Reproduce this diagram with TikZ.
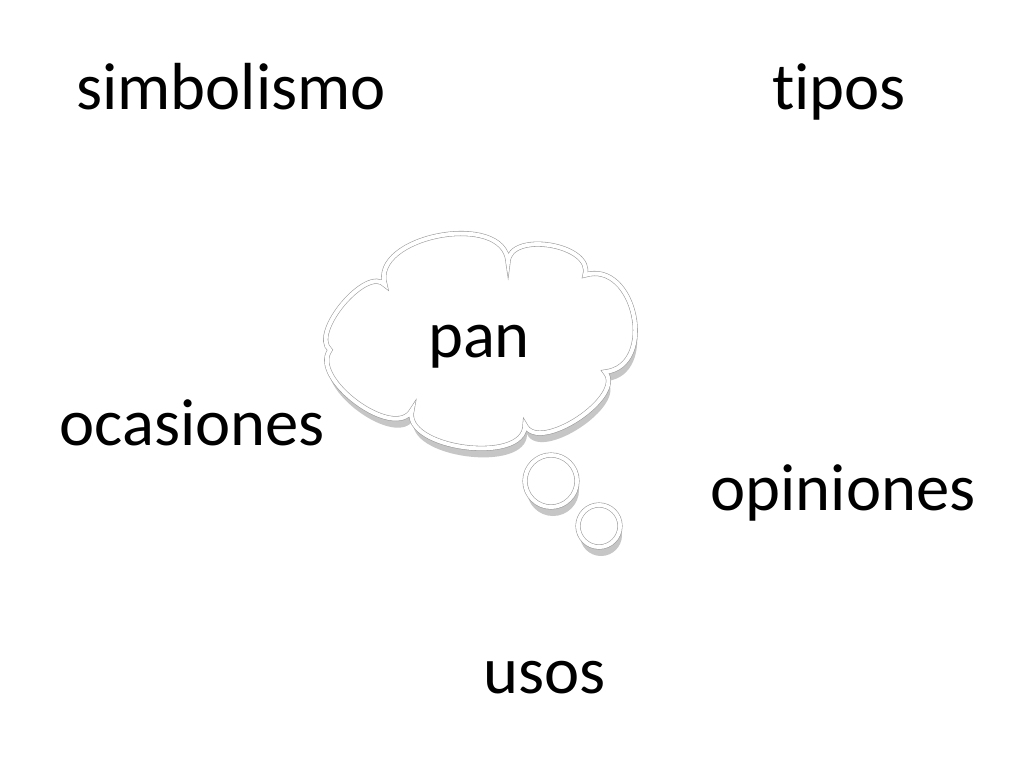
\documentclass[tikz,border=0pt]{standalone}
\usepackage{fontspec}
\setmainfont{Carlito}[Ligatures={NoCommon}, RawFeature={-liga;-dlig}]
\definecolor{shadowgray}{HTML}{C6C6C6}
\definecolor{linegray}{HTML}{9A9A9A}
\tikzset{
  word/.style={anchor=base, inner sep=0pt, font=\fontsize{47}{56}\selectfont},
  bubble/.style={fill=white, draw=linegray, line width=0.4pt, double=white, double distance=2.8pt},
  bubbleshadow/.style={fill=shadowgray, draw=none}
}
\newcommand{\cloudpath}{%
  (330,350) .. controls (309.6,332.8) and (367.4,264.6) .. (385,285)
  .. controls (369.4,235.6) and (504.7,210.3) .. (508,262)
  .. controls (509.4,230.3) and (594.1,244.6) .. (585,275)
  .. controls (635.6,259.6) and (657.6,366.3) .. (605,372)
  .. controls (626.7,396.1) and (538.7,454.4) .. (525,425)
  .. controls (525.4,465.4) and (401.1,448.9) .. (412,410)
  .. controls (395.1,441.7) and (309,378.7) .. (330,350) -- cycle}
\begin{document}
\begin{tikzpicture}[x=0.0248047cm, y=-0.0248047cm]
\useasboundingbox (0,0) rectangle (1024,768);
\fill[white] (0,0) rectangle (1024,768);
% shadows
\begin{scope}[shift={(2,9)}]
  \fill[bubbleshadow] \cloudpath;
  \fill[bubbleshadow] (551,481) circle[radius=26];
  \fill[bubbleshadow] (599,526) circle[radius=21];
\end{scope}
% bubbles
\draw[bubble] \cloudpath;
\draw[bubble] (551,481) circle[radius=26];
\draw[bubble] (599,526) circle[radius=21];
\coordinate (c1) at (551,481);
\coordinate (c2) at (599,526);
% words
\node[word] (pan) at (479,357) {pan};
\node[word] (simbolismo) at (231,109) {simbolismo};
\node[word] (tipos) at (839,109) {tipos};
\node[word] (ocasiones) at (192,445) {ocasiones};
\node[word] (opiniones) at (843,510) {opiniones};
\node[word] (usos) at (545,693) {usos};
\end{tikzpicture}
\end{document}
